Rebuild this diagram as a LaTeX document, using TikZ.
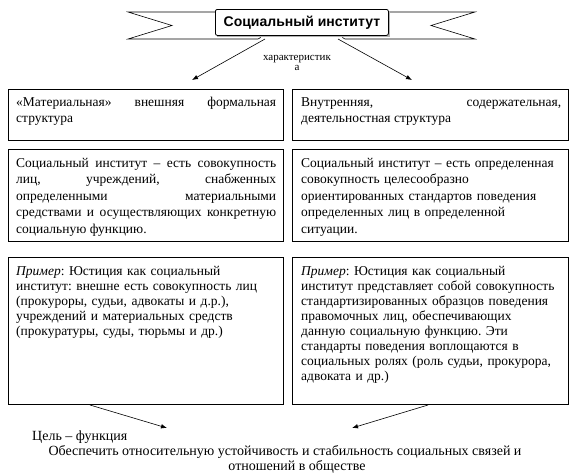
\documentclass[tikz,border=0pt]{standalone}
\usepackage{fontspec}
\setmainfont{Liberation Serif}
\newfontfamily\titlefont{Liberation Sans}
\usetikzlibrary{arrows.meta}
\frenchspacing
\begin{document}
\begin{tikzpicture}[x=1pt,y=-1pt,
  box/.style={draw=black, line width=1pt, inner sep=0pt, anchor=north west},
  txt/.style={inner sep=0pt, anchor=north west, text width=260pt,
              font=\fontsize{13.5}{16.5}\selectfont},
  txtb/.style={txt, font=\fontsize{13.5}{15}\selectfont},
  arr/.style={-{Latex[length=6pt,width=4.5pt]}, line width=0.6pt},
  ribbon/.style={draw=black, line width=0.6pt, fill=white},
  plain/.style={inner sep=0pt, font=\fontsize{14}{16.5}\selectfont}
]
\useasboundingbox (0,0) rectangle (573,475);

% ---- banner ----
\draw[ribbon] (215,12) -- (128,12) -- (172,25.5) -- (128,39) -- (258,39)
  to[out=0,in=-90] (261,35);
\draw[ribbon] (388,12) -- (475,12) -- (431,25.5) -- (475,39) -- (345,39)
  to[out=180,in=-90] (342,35);
\fill[gray!60] (217,11) rectangle (390,37);
\node[draw=black, line width=0.8pt, fill=white, rounded corners=2pt,
      minimum width=173pt, minimum height=26pt, inner sep=0pt,
      anchor=north west, font=\titlefont\bfseries\fontsize{14}{16}\selectfont]
      (title) at (215,9) {Социальный институт};

\coordinate (tl) at (265,39);
\coordinate (tr) at (338,39);
\coordinate (hl) at (192,80);
\coordinate (hr) at (412,80);
\draw[arr] (tl) -- (hl);
\draw[arr] (tr) -- (hr);
\node[inner sep=0pt, align=center, font=\fontsize{11}{9.5}\selectfont, anchor=base]
  (char) at (297,70) {характеристик\\а};

% ---- boxes ----
\node[box, minimum width=275pt, minimum height=51pt] (boxA) at (8,89) {};
\node[box, minimum width=276pt, minimum height=51pt] (boxB) at (292,89) {};
\node[box, minimum width=275pt, minimum height=92pt] (boxC) at (8,149) {};
\node[box, minimum width=276pt, minimum height=92pt] (boxD) at (292,149) {};
\node[box, minimum width=275pt, minimum height=147pt] (boxE) at (8,257) {};
\node[box, minimum width=276pt, minimum height=147pt] (boxF) at (292,257) {};

\node[txt, align=justify] (tA) at (16,94.5)
  {\strut«Материальная» внешняя формальная\linebreak структура};
\node[txt, align=justify] (tB) at (301,94.5)
  {\strut Внутренняя, содержательная,\linebreak деятельностная структура};
\node[txt, align=justify] (tC) at (16,155.5)
  {\strut Социальный институт – есть совокупность\linebreak
   лиц, учреждений, снабженных\linebreak
   определенными материальными\linebreak
   средствами и осуществляющих конкретную\linebreak
   социальную функцию.};
\node[txt, align=left] (tD) at (301,155.5)
  {\strut Социальный институт – есть определенная\\
   совокупность целесообразно\\
   ориентированных стандартов поведения\\
   определенных лиц в определенной\\
   ситуации.};
\node[txtb, align=left] (tE) at (16,265)
  {\strut\textit{Пример}: Юстиция как социальный\\
   институт: внешне есть совокупность лиц\\
   (прокуроры, судьи, адвокаты и д.р.),\\
   учреждений и материальных средств\\
   (прокуратуры, суды, тюрьмы и др.)};
\node[txtb, align=left] (tF) at (301,265)
  {\strut\textit{Пример}: Юстиция как социальный\\
   институт представляет собой совокупность\\
   стандартизированных образцов поведения\\
   правомочных лиц, обеспечивающих\\
   данную социальную функцию. Эти\\
   стандарты поведения воплощаются в\\
   социальных ролях (роль судьи, прокурора,\\
   адвоката и др.)};

% ---- bottom ----
\coordinate (bl) at (90,405);
\coordinate (br) at (428,405);
\coordinate (gl) at (167,428);
\coordinate (gr) at (352,428);
\draw[arr] (bl) -- (gl);
\draw[arr] (br) -- (gr);
\node[plain, anchor=base west] (goal) at (32,440) {Цель – функция};
\node[plain, anchor=base] (aim1) at (285,455)
  {Обеспечить относительную устойчивость и стабильность социальных связей и};
\node[plain, anchor=base] (aim2) at (297,470) {отношений в обществе};
\end{tikzpicture}
\end{document}
